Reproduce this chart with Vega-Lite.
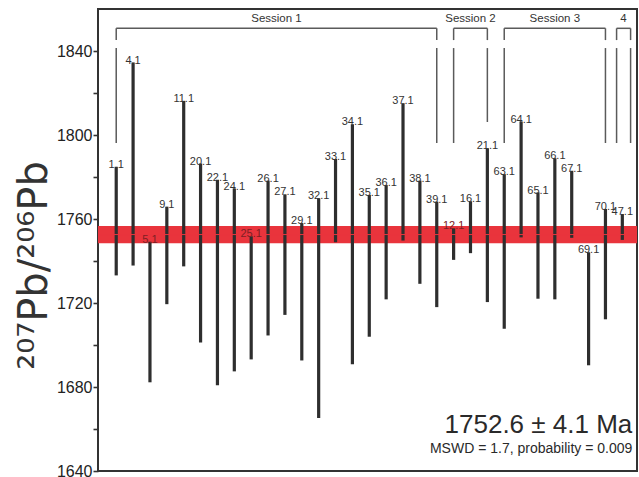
{
  "$schema": "https://vega.github.io/schema/vega-lite/v6.json",
  "width": 539,
  "height": 462,
  "autosize": "none",
  "padding": {"left": 98, "top": 9, "right": 2, "bottom": 6},
  "background": "white",
  "config": {
    "view": {"stroke": "#333333", "strokeWidth": 2},
    "font": "Liberation Sans",
    "text": {"font": "Liberation Sans"}
  },
  "datasets": {
    "spots": [
      {"label": "1.1", "i": 0, "lo": 1733.9, "hi": 1784.1},
      {"label": "4.1", "i": 1, "lo": 1738.6, "hi": 1833.8},
      {"label": "5.1", "i": 2, "lo": 1683.0, "hi": 1748.4},
      {"label": "9.1", "i": 3, "lo": 1720.2, "hi": 1765.1},
      {"label": "11.1", "i": 4, "lo": 1738.2, "hi": 1815.5},
      {"label": "20.1", "i": 5, "lo": 1702.0, "hi": 1785.7},
      {"label": "22.1", "i": 6, "lo": 1681.6, "hi": 1777.9},
      {"label": "24.1", "i": 7, "lo": 1688.2, "hi": 1773.8},
      {"label": "25.1", "i": 8, "lo": 1693.9, "hi": 1751.0},
      {"label": "26.1", "i": 9, "lo": 1705.3, "hi": 1777.5},
      {"label": "27.1", "i": 10, "lo": 1715.1, "hi": 1771.0},
      {"label": "29.1", "i": 11, "lo": 1693.4, "hi": 1757.3},
      {"label": "32.1", "i": 12, "lo": 1666.0, "hi": 1769.1},
      {"label": "33.1", "i": 13, "lo": 1749.7, "hi": 1787.8},
      {"label": "34.1", "i": 14, "lo": 1691.6, "hi": 1804.4},
      {"label": "35.1", "i": 15, "lo": 1704.7, "hi": 1770.7},
      {"label": "36.1", "i": 16, "lo": 1722.5, "hi": 1775.4},
      {"label": "37.1", "i": 17, "lo": 1750.5, "hi": 1814.4},
      {"label": "38.1", "i": 18, "lo": 1729.9, "hi": 1777.5},
      {"label": "39.1", "i": 19, "lo": 1718.8, "hi": 1767.5},
      {"label": "12.1", "i": 20, "lo": 1741.3, "hi": 1754.8},
      {"label": "16.1", "i": 21, "lo": 1744.5, "hi": 1767.7},
      {"label": "21.1", "i": 22, "lo": 1721.2, "hi": 1792.9},
      {"label": "63.1", "i": 23, "lo": 1708.5, "hi": 1780.6},
      {"label": "64.1", "i": 24, "lo": 1752.0, "hi": 1805.7},
      {"label": "65.1", "i": 25, "lo": 1722.8, "hi": 1771.9},
      {"label": "66.1", "i": 26, "lo": 1722.5, "hi": 1788.2},
      {"label": "67.1", "i": 27, "lo": 1751.8, "hi": 1782.2},
      {"label": "69.1", "i": 28, "lo": 1691.1, "hi": 1743.4},
      {"label": "70.1", "i": 29, "lo": 1713.0, "hi": 1764.0},
      {"label": "47.1", "i": 30, "lo": 1750.8, "hi": 1761.6}
    ],
    "brackets": [
      {"x": 0, "x2": 19, "y": 1850.8, "y2": 1850.8},
      {"x": 0, "x2": 0, "y": 1845.2, "y2": 1850.8},
      {"x": 19, "x2": 19, "y": 1845.2, "y2": 1850.8},
      {"x": 0, "x2": 0, "y": 1796.2, "y2": 1841.4},
      {"x": 19, "x2": 19, "y": 1796.2, "y2": 1841.4},
      {"x": 20, "x2": 22, "y": 1850.8, "y2": 1850.8},
      {"x": 20, "x2": 20, "y": 1845.2, "y2": 1850.8},
      {"x": 22, "x2": 22, "y": 1845.2, "y2": 1850.8},
      {"x": 20, "x2": 20, "y": 1796.2, "y2": 1841.4},
      {"x": 22, "x2": 22, "y": 1806.2, "y2": 1841.4},
      {"x": 23, "x2": 29, "y": 1850.8, "y2": 1850.8},
      {"x": 23, "x2": 23, "y": 1845.2, "y2": 1850.8},
      {"x": 29, "x2": 29, "y": 1845.2, "y2": 1850.8},
      {"x": 23, "x2": 23, "y": 1796.2, "y2": 1841.4},
      {"x": 29, "x2": 29, "y": 1796.2, "y2": 1841.4},
      {"x": 29.66, "x2": 30.49, "y": 1850.8, "y2": 1850.8},
      {"x": 29.66, "x2": 29.66, "y": 1845.2, "y2": 1850.8},
      {"x": 30.49, "x2": 30.49, "y": 1845.2, "y2": 1850.8},
      {"x": 29.66, "x2": 29.66, "y": 1796.2, "y2": 1841.4},
      {"x": 30.49, "x2": 30.49, "y": 1796.2, "y2": 1841.4}
    ],
    "sessions": [
      {"name": "Session 1", "x": 9.5, "y": 1853.6},
      {"name": "Session 2", "x": 21, "y": 1853.6},
      {"name": "Session 3", "x": 26, "y": 1853.6},
      {"name": "4", "x": 30.07, "y": 1853.6}
    ],
    "mean": [{"age": 1752.6, "lo": 1748.5, "hi": 1756.7}],
    "notes": [
      {"text": "1752.6 ± 4.1 Ma", "x": 30.59, "y": 1657.95, "kind": "big"},
      {"text": "MSWD = 1.7, probability = 0.009", "x": 30.59, "y": 1648.4, "kind": "small"}
    ]
  },
  "encoding": {
    "x": {"type": "quantitative", "scale": {"domain": [-1.08, 30.87], "nice": false, "zero": false}, "axis": null},
    "y": {"type": "quantitative", "scale": {"domain": [1640, 1860], "nice": false, "zero": false},
      "axis": {
        "title": "²⁰⁷Pb/²⁰⁶Pb",
        "titleFont": "DejaVu Sans",
        "titleFontSize": 40,
        "titleFontWeight": "normal",
        "titleColor": "#333333",
        "titlePadding": 2,
        "titleY": 256,
        "values": [1640, 1660, 1680, 1700, 1720, 1740, 1760, 1780, 1800, 1820, 1840],
        "format": "d",
        "labelExpr": "datum.value % 40 === 0 ? datum.label : ''",
        "labelFont": "Liberation Sans",
        "labelFontSize": 16,
        "labelColor": "#222222",
        "labelPadding": 1,
        "tickSize": 5,
        "tickWidth": 1.6,
        "tickColor": "#333333",
        "domain": false,
        "grid": false
      }
    }
  },
  "layer": [
    {
      "data": {"name": "mean"},
      "mark": {"type": "rect", "color": "#e9343c"},
      "encoding": {"y": {"field": "lo"}, "y2": {"field": "hi"}}
    },
    {
      "data": {"name": "spots"},
      "mark": {"type": "rule", "color": "#2e2e2e", "strokeWidth": 3.2, "strokeCap": "square"},
      "encoding": {"x": {"field": "i"}, "y": {"field": "lo"}, "y2": {"field": "hi"}}
    },
    {
      "data": {"name": "mean"},
      "mark": {"type": "rule", "color": "#e9343c", "strokeWidth": 1},
      "encoding": {"y": {"field": "age"}}
    },
    {
      "data": {"name": "spots"},
      "mark": {"type": "text", "fontSize": 11, "baseline": "alphabetic", "align": "center", "dy": -0.5},
      "encoding": {
        "x": {"field": "i"},
        "y": {"field": "hi"},
        "xOffset": {"condition": {"test": "datum.label === '47.1'", "value": 3}, "value": 0},
        "text": {"field": "label"},
        "color": {"condition": {"test": "datum.hi > 1746 && datum.hi < 1756", "value": "#7d2024"}, "value": "#333333"}
      }
    },
    {
      "data": {"name": "brackets"},
      "mark": {"type": "rule", "color": "#5a5a5a", "strokeWidth": 1.5},
      "encoding": {"x": {"field": "x"}, "x2": {"field": "x2"}, "y": {"field": "y"}, "y2": {"field": "y2"}}
    },
    {
      "data": {"name": "sessions"},
      "mark": {"type": "text", "fontSize": 11.5, "baseline": "alphabetic", "align": "center", "color": "#333333"},
      "encoding": {"x": {"field": "x"}, "y": {"field": "y"}, "text": {"field": "name"}}
    },
    {
      "data": {"name": "notes"},
      "transform": [{"filter": "datum.kind === 'big'"}],
      "mark": {"type": "text", "fontSize": 26, "baseline": "alphabetic", "align": "right", "color": "#2a2a2a"},
      "encoding": {"x": {"field": "x"}, "y": {"field": "y"}, "text": {"field": "text"}}
    },
    {
      "data": {"name": "notes"},
      "transform": [{"filter": "datum.kind === 'small'"}],
      "mark": {"type": "text", "fontSize": 14, "baseline": "alphabetic", "align": "right", "color": "#2a2a2a"},
      "encoding": {"x": {"field": "x"}, "y": {"field": "y"}, "text": {"field": "text"}}
    }
  ]
}
